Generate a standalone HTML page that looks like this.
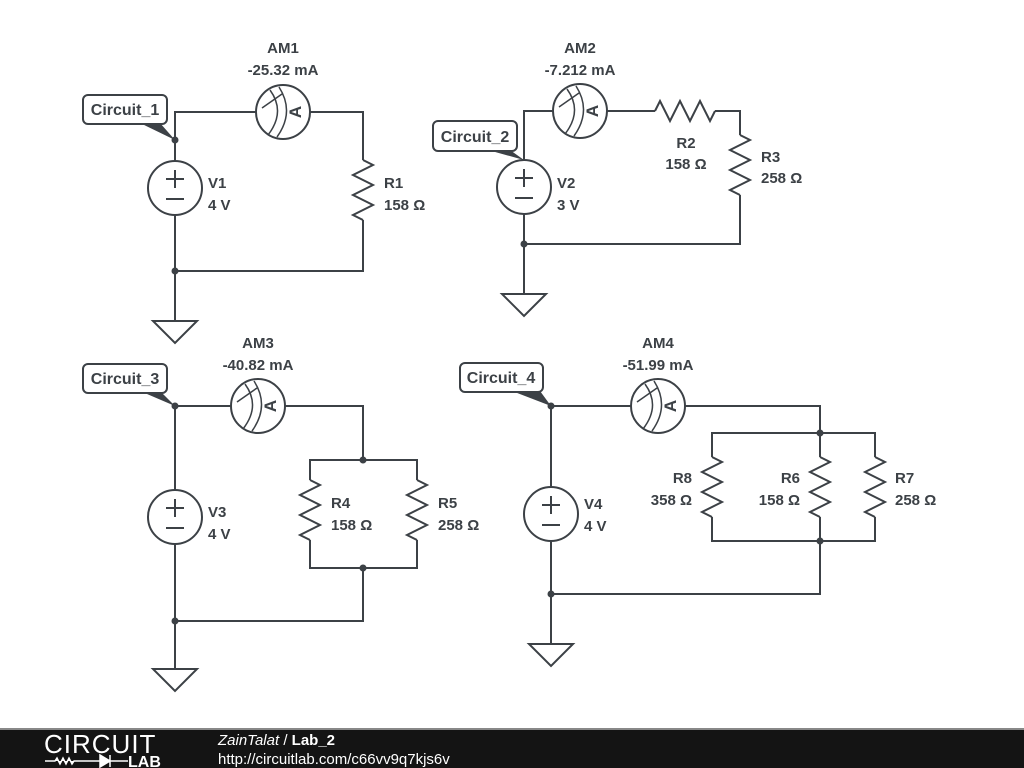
<!DOCTYPE html>
<html><head><meta charset="utf-8"><style>
html,body{margin:0;padding:0;background:#fff;width:1024px;height:768px;overflow:hidden}
svg{display:block}
.w{fill:none;stroke:#3c4146;stroke-width:2;stroke-linejoin:miter}
text{font-family:"Liberation Sans",sans-serif;font-weight:bold;font-size:15px;fill:#3c4146}
.lb{font-size:16px}
</style></head><body>
<svg width="1024" height="768" viewBox="0 0 1024 768" xmlns="http://www.w3.org/2000/svg">
<defs>
<g id="am"><circle r="27" fill="#fff" stroke="#3c4146" stroke-width="2"/>
<path d="M-13,-22 Q3,0 -15,23 M-4,-25 Q12,0 -6,25 M-21,-4 L-1,-18" fill="none" stroke="#3c4146" stroke-width="1.5"/>
<text x="0" y="0" transform="translate(12,0) rotate(-90)" text-anchor="middle" dy="6" style="font-size:17px">A</text></g>
<g id="vs"><circle r="27" fill="#fff" stroke="#3c4146" stroke-width="2"/>
<path d="M-9,-9 H9 M0,-18 V0 M-9,11 H9" stroke="#3c4146" stroke-width="2"/></g>
<path id="rv" d="M0,0 l10,5 l-20,10 l20,10 l-20,10 l20,10 l-20,10 l10,5" class="w"/>
<path id="gnd" d="M-22,0 H22 L0,22 Z" class="w" fill="#fff"/>
</defs>

<!-- Circuit 1 -->
<path class="w" d="M175,161 V112 H256 M310,112 H363 V160 M363,220 V271 H175 M175,215 V320"/>
<use href="#am" x="283" y="112"/>
<use href="#vs" x="175" y="188"/>
<use href="#rv" x="363" y="160"/>
<use href="#gnd" x="175" y="321"/>
<circle cx="175" cy="140" r="3.5" fill="#3c4146"/><circle cx="175" cy="271" r="3.5" fill="#3c4146"/>
<text x="283" y="53" text-anchor="middle">AM1</text><text x="283" y="75" text-anchor="middle">-25.32 mA</text>
<text x="208" y="188">V1</text><text x="208" y="210">4 V</text>
<text x="384" y="188">R1</text><text x="384" y="210">158 Ω</text>
<path d="M140,123 L175,140 L160,123 Z" fill="#3c4146"/>
<rect x="83" y="95" width="84" height="29" rx="5" fill="#fff" stroke="#3c4146" stroke-width="2"/>
<text x="125" y="115" text-anchor="middle" class="lb">Circuit_1</text>

<!-- Circuit 2 -->
<path class="w" d="M524,160 V111 H553 M607,111 H655 M715,111 H740 V135 M740,195 V244 H524 M524,214 V293"/>
<path class="w" d="M655,111 l5,-10 l10,20 l10,-20 l10,20 l10,-20 l10,20 l5,-10"/>
<use href="#am" x="580" y="111"/>
<use href="#vs" x="524" y="187"/>
<use href="#rv" x="740" y="135"/>
<use href="#gnd" x="524" y="294"/>
<circle cx="524" cy="244" r="3.5" fill="#3c4146"/>
<text x="580" y="53" text-anchor="middle">AM2</text><text x="580" y="75" text-anchor="middle">-7.212 mA</text>
<text x="557" y="188">V2</text><text x="557" y="210">3 V</text>
<text x="686" y="148" text-anchor="middle">R2</text><text x="686" y="169" text-anchor="middle">158 Ω</text>
<text x="761" y="162">R3</text><text x="761" y="183">258 Ω</text>
<path d="M488,150 L524,160 L510,150 Z" fill="#3c4146"/>
<rect x="433" y="121" width="84" height="30" rx="5" fill="#fff" stroke="#3c4146" stroke-width="2"/>
<text x="475" y="142" text-anchor="middle" class="lb">Circuit_2</text>

<!-- Circuit 3 -->
<path class="w" d="M175,490 V406 H231 M285,406 H363 V460 M310,480 V460 H417 V480 M310,540 V568 H417 V540 M363,568 V621 H175 M175,544 V668"/>
<use href="#am" x="258" y="406"/>
<use href="#vs" x="175" y="517"/>
<use href="#rv" x="310" y="480"/>
<use href="#rv" x="417" y="480"/>
<use href="#gnd" x="175" y="669"/>
<circle cx="175" cy="406" r="3.5" fill="#3c4146"/><circle cx="363" cy="460" r="3.5" fill="#3c4146"/>
<circle cx="363" cy="568" r="3.5" fill="#3c4146"/><circle cx="175" cy="621" r="3.5" fill="#3c4146"/>
<text x="258" y="348" text-anchor="middle">AM3</text><text x="258" y="370" text-anchor="middle">-40.82 mA</text>
<text x="208" y="517">V3</text><text x="208" y="539">4 V</text>
<text x="331" y="508">R4</text><text x="331" y="530">158 Ω</text>
<text x="438" y="508">R5</text><text x="438" y="530">258 Ω</text>
<path d="M140,391 L175,406 L160,391 Z" fill="#3c4146"/>
<rect x="83" y="364" width="84" height="29" rx="5" fill="#fff" stroke="#3c4146" stroke-width="2"/>
<text x="125" y="384" text-anchor="middle" class="lb">Circuit_3</text>

<!-- Circuit 4 -->
<path class="w" d="M551,487 V406 H631 M685,406 H820 V433 M712,457 V433 H875 V457 M820,433 V457 M712,517 V541 H875 V517 M820,517 V594 H551 M551,541 V643"/>
<use href="#am" x="658" y="406"/>
<use href="#vs" x="551" y="514"/>
<use href="#rv" x="712" y="457"/>
<use href="#rv" x="820" y="457"/>
<use href="#rv" x="875" y="457"/>
<use href="#gnd" x="551" y="644"/>
<circle cx="551" cy="406" r="3.5" fill="#3c4146"/><circle cx="820" cy="433" r="3.5" fill="#3c4146"/>
<circle cx="820" cy="541" r="3.5" fill="#3c4146"/><circle cx="551" cy="594" r="3.5" fill="#3c4146"/>
<text x="658" y="348" text-anchor="middle">AM4</text><text x="658" y="370" text-anchor="middle">-51.99 mA</text>
<text x="584" y="509">V4</text><text x="584" y="531">4 V</text>
<text x="692" y="483" text-anchor="end">R8</text><text x="692" y="505" text-anchor="end">358 Ω</text>
<text x="800" y="483" text-anchor="end">R6</text><text x="800" y="505" text-anchor="end">158 Ω</text>
<text x="895" y="483">R7</text><text x="895" y="505">258 Ω</text>
<path d="M512,391 L551,406 L540,391 Z" fill="#3c4146"/>
<rect x="460" y="363" width="83" height="29" rx="5" fill="#fff" stroke="#3c4146" stroke-width="2"/>
<text x="501" y="383" text-anchor="middle" class="lb">Circuit_4</text>

<!-- Footer -->
<rect x="0" y="728" width="1024" height="2" fill="#888"/>
<rect x="0" y="730" width="1024" height="38" fill="#141414"/>
<text x="44" y="753" style="font-weight:normal;font-size:26px;fill:#fff;letter-spacing:1px">CIRCUIT</text>
<path d="M45,761 H55 l2,-3 l3,6 l3,-6 l3,6 l3,-6 l3,6 l2,-3 H82 M82,761 H110 M100,755 V767 M100,755 L110,761 L100,767 Z M110,755 V767 M110,761 H128" stroke="#fff" stroke-width="1.5" fill="#fff"/>
<text x="128" y="767" style="font-size:16px;fill:#fff;font-weight:bold">LAB</text>
<text x="218" y="745" style="font-size:15px;fill:#fff;font-weight:normal;font-style:italic">ZainTalat <tspan style="font-style:normal">/</tspan> <tspan style="font-style:normal;font-weight:bold">Lab_2</tspan></text>
<text x="218" y="764" style="font-size:15px;fill:#fff;font-weight:normal">http://circuitlab.com/c66vv9q7kjs6v</text>
</svg>
</body></html>
